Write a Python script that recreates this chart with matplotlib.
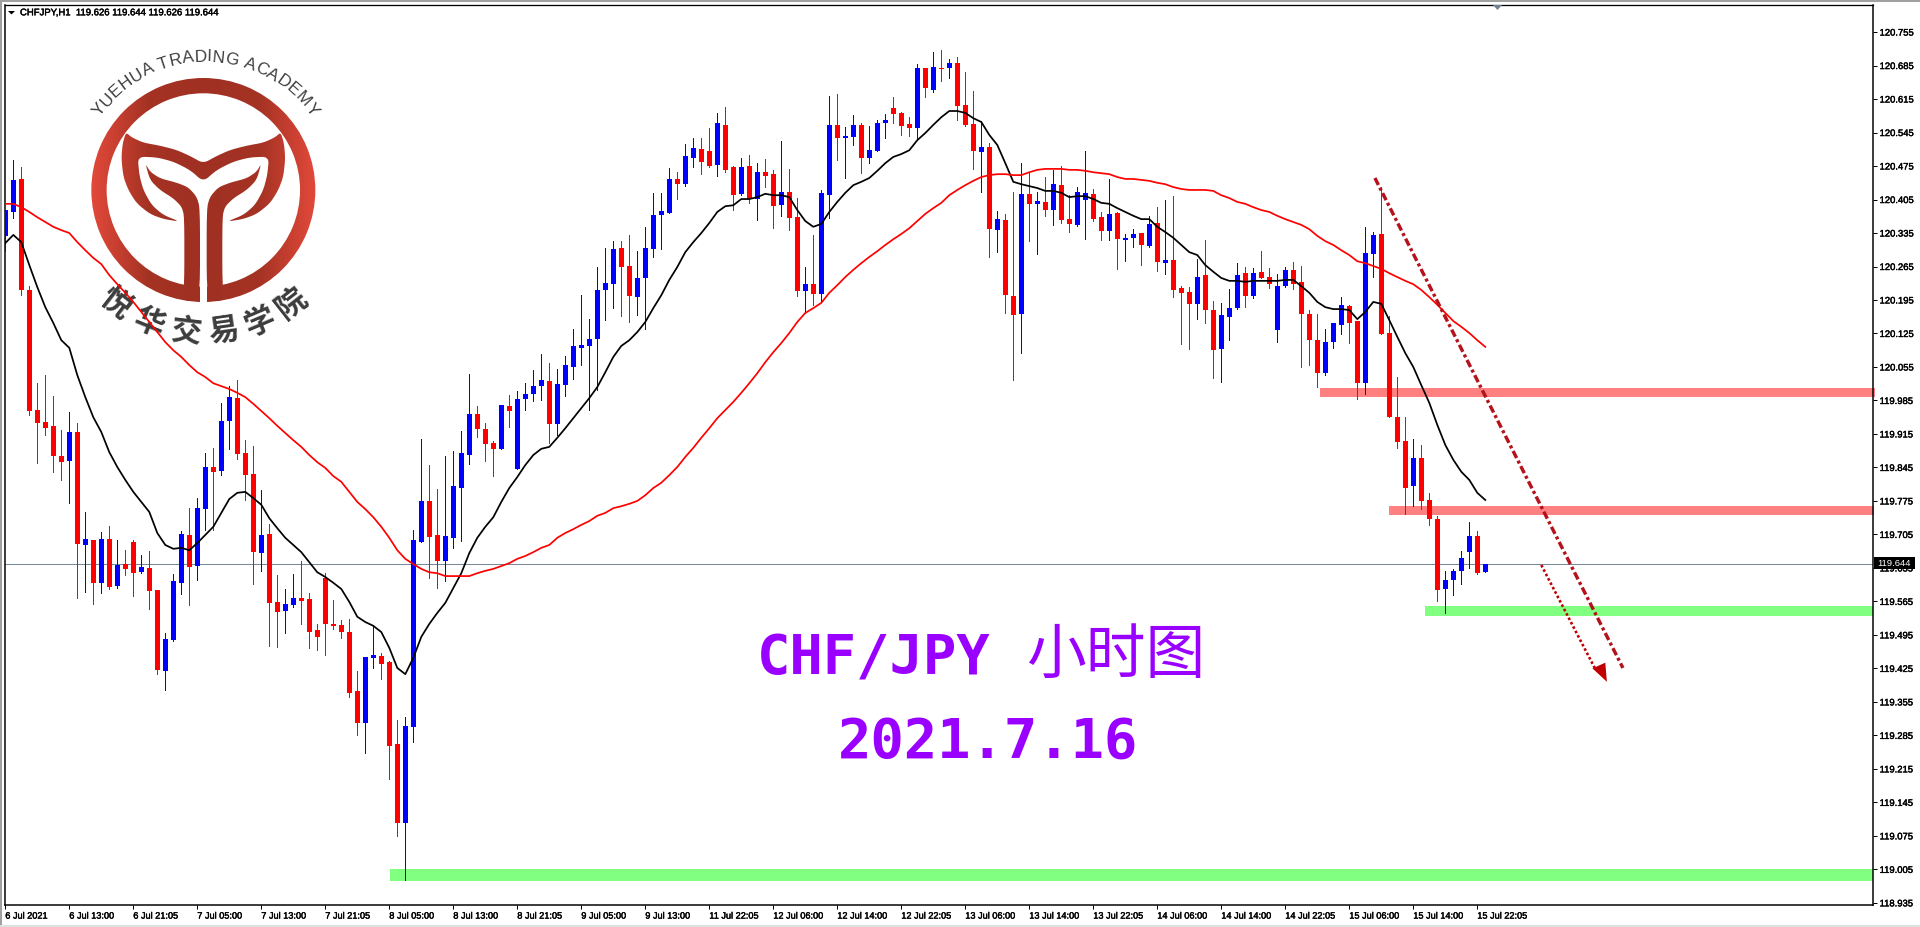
import numpy as np
import matplotlib
matplotlib.use("Agg")
import matplotlib.pyplot as plt
import matplotlib.patheffects as pe
from matplotlib.patches import Rectangle, Polygon, Wedge
from matplotlib.colors import LinearSegmentedColormap

# ---------- data (CHFJPY H1) ----------
opens = [
120.328,120.379,120.448,120.216,119.965,119.940,119.932,119.869,119.858,119.919,
119.683,119.693,119.604,119.695,119.597,119.643,119.689,119.626,119.635,119.589,
119.420,119.484,119.604,119.704,119.639,119.758,119.846,119.838,119.942,119.990,
119.875,119.831,119.666,119.706,119.564,119.545,119.558,119.572,119.570,119.505,
119.614,119.518,119.516,119.501,119.378,119.311,119.447,119.451,119.438,119.267,
119.102,119.303,119.689,119.775,119.704,119.650,119.698,119.802,119.871,119.957,
119.925,119.896,119.884,119.973,119.842,119.988,119.999,120.015,120.026,119.936,
120.017,120.055,120.095,120.099,120.113,120.216,120.228,120.304,120.266,120.201,
120.241,120.302,120.373,120.377,120.448,120.437,120.492,120.511,120.506,120.477,
120.561,120.473,120.417,120.475,120.406,120.462,120.458,120.393,120.421,120.368,
120.214,120.228,120.207,120.414,120.561,120.534,120.536,120.561,120.492,120.506,
120.565,120.596,120.586,120.563,120.554,120.680,120.634,120.680,120.680,120.690,
120.603,120.563,120.504,120.515,120.341,120.362,120.203,120.166,120.417,120.396,
120.400,120.383,120.435,120.364,120.352,120.404,120.417,120.368,120.339,120.377,
120.320,120.325,120.335,120.308,120.356,120.272,120.279,120.220,120.212,120.187,
120.247,120.174,120.093,120.159,120.178,120.251,120.203,120.254,120.243,120.132,
120.224,120.258,120.233,120.166,120.111,120.042,120.107,120.143,120.182,120.151,
120.021,120.291,120.333,120.126,119.950,119.900,119.806,119.865,119.777,119.737,
119.591,119.610,119.629,119.668,119.702,119.626]
highs = [
120.383,120.488,120.473,120.224,120.021,120.038,119.994,119.923,119.961,119.938,
119.752,119.693,119.710,119.723,119.693,119.672,119.693,119.662,119.670,119.589,
119.499,119.622,119.712,119.760,119.781,119.875,119.886,119.980,120.015,120.028,
119.902,119.890,119.798,119.727,119.620,119.591,119.622,119.650,119.583,119.518,
119.624,119.568,119.526,119.528,119.420,119.449,119.516,119.457,119.441,119.317,
119.323,119.714,119.904,119.850,119.800,119.869,119.879,119.921,120.040,119.973,
119.938,119.900,119.976,119.996,120.005,120.021,120.049,120.082,120.063,120.051,
120.078,120.134,120.205,120.155,120.264,120.304,120.318,120.318,120.331,120.297,
120.348,120.419,120.419,120.471,120.462,120.521,120.534,120.534,120.554,120.586,
120.598,120.475,120.492,120.498,120.481,120.490,120.467,120.527,120.469,120.408,
120.264,120.331,120.425,120.621,120.626,120.557,120.582,120.565,120.559,120.571,
120.584,120.619,120.588,120.577,120.688,120.680,120.713,120.717,120.699,120.703,
120.672,120.632,120.569,120.523,120.381,120.375,120.421,120.481,120.460,120.421,
120.452,120.467,120.475,120.414,120.431,120.506,120.427,120.379,120.448,120.379,
120.333,120.343,120.335,120.371,120.389,120.404,120.412,120.224,120.222,120.281,
120.320,120.193,120.189,120.218,120.272,120.264,120.262,120.297,120.262,120.249,
120.264,120.274,120.266,120.174,120.166,120.134,120.147,120.201,120.185,120.151,
120.348,120.337,120.431,120.162,120.034,119.950,119.904,119.892,119.792,119.744,
119.629,119.633,119.670,119.731,119.712,119.644]
lows = [
120.297,120.366,120.205,119.955,119.854,119.913,119.836,119.819,119.771,119.572,
119.585,119.560,119.583,119.591,119.593,119.620,119.576,119.624,119.549,119.413,
119.380,119.482,119.581,119.558,119.610,119.714,119.714,119.829,119.884,119.863,
119.777,119.601,119.629,119.472,119.470,119.499,119.553,119.518,119.468,119.464,
119.453,119.507,119.489,119.365,119.286,119.248,119.426,119.403,119.194,119.075,
118.983,119.271,119.689,119.614,119.593,119.608,119.677,119.691,119.852,119.909,
119.858,119.827,119.884,119.930,119.842,119.965,119.984,119.986,119.896,119.913,
119.994,120.030,120.059,119.965,120.007,120.153,120.178,120.162,120.149,120.164,
120.134,120.285,120.302,120.377,120.406,120.433,120.473,120.458,120.473,120.454,
120.462,120.383,120.414,120.398,120.362,120.431,120.345,120.371,120.341,120.203,
120.168,120.185,120.191,120.366,120.488,120.450,120.519,120.460,120.481,120.506,
120.534,120.565,120.540,120.538,120.529,120.619,120.630,120.653,120.659,120.571,
120.559,120.469,120.421,120.285,120.295,120.168,120.028,120.084,120.318,120.291,
120.371,120.352,120.356,120.337,120.350,120.322,120.360,120.320,120.320,120.260,
120.276,120.306,120.268,120.306,120.256,120.249,120.201,120.103,120.093,120.155,
120.147,120.032,120.024,120.111,120.176,120.180,120.199,120.241,120.220,120.107,
120.222,120.218,120.055,120.059,120.013,120.038,120.095,120.124,120.105,119.988,
119.999,120.243,120.124,119.950,119.886,119.748,119.764,119.758,119.725,119.566,
119.541,119.578,119.601,119.635,119.622,119.626]
closes = [
120.383,120.446,120.216,119.963,119.938,119.927,119.869,119.856,119.919,119.685,
119.695,119.604,119.695,119.595,119.641,119.633,119.624,119.637,119.587,119.422,
119.486,119.608,119.706,119.637,119.760,119.846,119.836,119.942,119.992,119.873,
119.829,119.668,119.704,119.562,119.543,119.560,119.572,119.566,119.501,119.491,
119.518,119.514,119.501,119.374,119.311,119.449,119.453,119.434,119.263,119.102,
119.305,119.693,119.775,119.700,119.650,119.702,119.806,119.875,119.957,119.925,
119.894,119.884,119.976,119.963,119.988,119.999,120.015,120.028,119.936,120.019,
120.059,120.099,120.101,120.113,120.216,120.231,120.302,120.264,120.203,120.241,
120.304,120.373,120.381,120.448,120.437,120.496,120.513,120.483,120.475,120.565,
120.467,120.414,120.473,120.406,120.462,120.454,120.391,120.421,120.366,120.214,
120.228,120.207,120.419,120.561,120.534,120.538,120.561,120.492,120.508,120.565,
120.571,120.584,120.559,120.554,120.680,120.638,120.682,120.678,120.690,120.600,
120.561,120.506,120.515,120.343,120.364,120.205,120.164,120.417,120.396,120.402,
120.383,120.437,120.362,120.354,120.421,120.419,120.364,120.339,120.375,120.322,
120.325,120.333,120.310,120.354,120.274,120.279,120.216,120.210,120.187,120.243,
120.174,120.090,120.164,120.178,120.247,120.203,120.251,120.241,120.228,120.224,
120.258,120.228,120.166,120.111,120.042,120.107,120.147,120.185,120.147,120.021,
120.293,120.331,120.124,119.950,119.898,119.802,119.865,119.775,119.737,119.589,
119.610,119.629,119.656,119.702,119.624,119.644]
ma_fast = [
120.314,120.331,120.316,120.268,120.222,120.180,120.147,120.111,120.095,120.038,
119.992,119.950,119.919,119.877,119.846,119.819,119.794,119.773,119.752,119.708,
119.683,119.675,119.677,119.672,119.687,119.704,119.721,119.750,119.779,119.792,
119.794,119.781,119.767,119.739,119.718,119.698,119.683,119.668,119.647,119.626,
119.616,119.604,119.591,119.564,119.533,119.522,119.514,119.501,119.468,119.426,
119.413,119.447,119.491,119.518,119.541,119.562,119.593,119.624,119.666,119.698,
119.721,119.741,119.773,119.802,119.825,119.850,119.871,119.884,119.888,119.907,
119.927,119.948,119.969,119.990,120.013,120.044,120.076,120.099,120.111,120.128,
120.149,120.178,120.205,120.237,120.264,120.295,120.316,120.335,120.356,120.379,
120.391,120.393,120.406,120.406,120.410,120.417,120.414,120.414,120.410,120.383,
120.360,120.348,120.354,120.379,120.400,120.419,120.435,120.442,120.450,120.465,
120.481,120.494,120.500,120.508,120.529,120.544,120.561,120.577,120.590,120.590,
120.586,120.575,120.567,120.540,120.519,120.481,120.442,120.437,120.433,120.429,
120.423,120.423,120.419,120.410,120.412,120.412,120.406,120.398,120.396,120.387,
120.379,120.371,120.364,120.364,120.348,120.337,120.325,120.310,120.295,120.289,
120.268,120.254,120.241,120.235,120.235,120.233,120.235,120.235,120.235,120.235,
120.237,120.237,120.224,120.210,120.191,120.180,120.176,120.176,120.174,120.155,
120.170,120.191,120.187,120.153,120.118,120.084,120.055,120.017,119.980,119.934,
119.892,119.861,119.836,119.819,119.792,119.777]
ma_slow = [
120.396,120.396,120.389,120.379,120.368,120.358,120.348,120.341,120.335,120.316,
120.299,120.283,120.270,120.247,120.228,120.210,120.191,120.170,120.149,120.128,
120.107,120.090,120.076,120.059,120.044,120.034,120.021,120.015,120.009,120.001,
119.992,119.978,119.963,119.948,119.932,119.917,119.902,119.888,119.871,119.856,
119.844,119.827,119.815,119.794,119.773,119.758,119.741,119.721,119.698,119.672,
119.654,119.643,119.633,119.626,119.624,119.618,119.618,119.618,119.618,119.624,
119.629,119.633,119.639,119.645,119.654,119.660,119.668,119.677,119.683,119.698,
119.708,119.716,119.725,119.733,119.744,119.750,119.760,119.764,119.769,119.775,
119.787,119.802,119.813,119.829,119.846,119.867,119.886,119.907,119.927,119.948,
119.965,119.982,120.001,120.021,120.042,120.065,120.086,120.105,120.126,120.149,
120.168,120.178,120.189,120.210,120.226,120.243,120.258,120.272,120.285,120.297,
120.310,120.322,120.333,120.345,120.360,120.375,120.387,120.398,120.414,120.425,
120.435,120.444,120.452,120.456,120.458,120.458,120.456,120.456,120.462,120.467,
120.469,120.469,120.469,120.467,120.467,120.465,120.462,120.460,120.458,120.452,
120.448,120.448,120.446,120.444,120.440,120.437,120.431,120.427,120.425,120.425,
120.425,120.423,120.414,120.408,120.400,120.396,120.389,120.383,120.379,120.371,
120.364,120.358,120.352,120.343,120.329,120.318,120.310,120.299,120.289,120.276,
120.272,120.266,120.260,120.251,120.243,120.235,120.228,120.216,120.201,120.185,
120.168,120.151,120.139,120.126,120.111,120.097]
time_labels = ["6 Jul 2021","6 Jul 13:00","6 Jul 21:05","7 Jul 05:00","7 Jul 13:00","7 Jul 21:05",
               "8 Jul 05:00","8 Jul 13:00","8 Jul 21:05","9 Jul 05:00","9 Jul 13:00","11 Jul 22:05",
               "12 Jul 06:00","12 Jul 14:00","12 Jul 22:05","13 Jul 06:00","13 Jul 14:00","13 Jul 22:05",
               "14 Jul 06:00","14 Jul 14:00","14 Jul 22:05","15 Jul 06:00","15 Jul 14:00","15 Jul 22:05"]
price_ticks = [120.755,120.685,120.615,120.545,120.475,120.405,120.335,120.265,120.195,120.125,
               120.055,119.985,119.915,119.845,119.775,119.705,119.635,119.565,119.495,119.425,
               119.355,119.285,119.215,119.145,119.075,119.005,118.935]
last_price = 119.644
# zones: (first bar, last bar, price low, price high, colour)
zones = [(164.3,233.7,119.992,120.011,"#FF8080"),(173.0,233.6,119.746,119.764,"#FF8080"),
         (177.5,233.4,119.535,119.555,"#80FF80"),(48.1,233.4,118.981,119.006,"#80FF80")]
trend_bars, trend_prices = [171.2,202.2], [120.450,119.426]
arrow_bars, arrow_prices = [192.0,198.8], [119.641,119.422]

W, H = 1920, 927
DPI = 100
LEFT, RIGHT, TOP, BOTTOM = 4.5, 1872.5, 4.5, 904.5
BLUE, RED = "#0000FF", "#FF0000"
plt.rcParams["font.family"] = ["Liberation Sans", "DejaVu Sans"]
fig = plt.figure(figsize=(W/DPI, H/DPI), dpi=DPI, facecolor="white")

# ---------- pixel overlay under the chart: logo and window edges ----------
bg = fig.add_axes([0,0,1,1], zorder=0)
cmap = LinearSegmentedColormap.from_list("logo", ["#9F3022","#A53324","#E2493A"])
LX, LY = 610/3, 570/3
R_OUT, R_IN = 112.0, 96.7
def gradient_fill(patch, z=2):
    bg.add_patch(patch)
    g = np.abs(np.linspace(-1,1,300))[None,:]
    im = bg.imshow(g, extent=(LX-R_OUT,LX+R_OUT,LY+R_OUT,LY-R_OUT), cmap=cmap, vmin=0, vmax=1,
                   aspect="auto", interpolation="bilinear", zorder=z)
    im.set_clip_path(patch)
def soften(pts, rounds=2):
    p = np.array(pts, float)
    for _ in range(rounds):
        q = np.roll(p, -1, axis=0)
        p = np.column_stack([0.8*p + 0.2*q, 0.2*p + 0.8*q]).reshape(-1, 2)
    return p
gradient_fill(Wedge((LX,LY),R_OUT,0,360,width=R_OUT-R_IN,fc="none",ec="none"))
bg.add_patch(Rectangle((600/3,770/3),20/3,150/3,fc="white",ec="none",zorder=3))
crown_half = [(610,490),(570,468),(530,450),(480,437),(430,428),(395,412),(378,397),(368,430),(364,475),
              (370,530),(385,570),(410,610),(450,642),(490,657),(540,665),(490,645),(455,615),(430,570),
              (418,525),(413,470),(470,472),(520,485),(570,510),(610,545)]
crown = crown_half + [(1220-x,y) for x,y in crown_half[-2:0:-1]]
stem = [(436,490),(450,515),(480,535),(530,548),(565,562),(590,590),(600,625),(600,875),(585,893),(568,903),
        (545,897),(553,855),(553,650),(545,620),(520,595),(480,570),(450,540)]
for pts in (crown, stem, [(1220-x,y) for x,y in stem]):
    gradient_fill(Polygon(soften(pts)/3.0, closed=True, fc="none", ec="none", zorder=4), z=4)
# arc captions
title = "YUEHUA TRADING ACADEMY"
adv = {"Y":.667,"U":.722,"E":.667,"H":.722,"A":.667," ":.278,"T":.611,"R":.722,"D":.722,"I":.278,"N":.722,
       "G":.778,"C":.722,"M":.833}
w = np.array([adv[c] for c in title])
mid = np.cumsum(w) - w/2
ang = -55.5 + 111*mid/w.sum()
for c,a in zip(title,ang):
    rad = np.deg2rad(a)
    bg.text(LX+2+133*np.sin(rad), LY-133*np.cos(rad), c, rotation=-a, rotation_mode="anchor", ha="center",
            va="center", fontsize=12.4, color="#404040", zorder=5)
for c,a in zip("悦华交易学院",[-37.8,-22.3,-6.8,8.1,23,38]):
    rad = np.deg2rad(a)
    bg.text(LX+143*np.sin(rad), LY+143*np.cos(rad), c, rotation=a, rotation_mode="anchor", ha="center",
            va="center", fontsize=22, fontweight="bold", family=["Noto Sans CJK SC","DejaVu Sans"],
            color="#3C3C3C", zorder=5)
bg.add_patch(Rectangle((0,0),W,2,fc="#A0A0A0",ec="none"))
bg.add_patch(Rectangle((0,0),2,H,fc="#A0A0A0",ec="none"))
bg.add_patch(Rectangle((0,925),W,2,fc="#E0E0E0",ec="none"))
bg.set_xlim(0,W); bg.set_ylim(H,0); bg.axis("off")

# ---------- chart ----------
ax = fig.add_axes([LEFT/W, 1-BOTTOM/H, (RIGHT-LEFT)/W, (BOTTOM-TOP)/H], zorder=1)
ax.set_facecolor("none")
px = 72.0/DPI
n = len(opens)
x = np.arange(n)
o, hi, lo, c = map(np.array, (opens, highs, lows, closes))
bull = c >= o
colors = np.where(bull, BLUE, RED)
for z in zones:
    ax.add_patch(Rectangle((z[0],z[2]),z[1]-z[0],z[3]-z[2],fc=z[4],ec="none",zorder=1,clip_on=False))
ax.vlines(x, lo, hi, colors=colors, lw=1.0*px, zorder=3, antialiased=False)
ax.bar(x, np.abs(c-o), bottom=np.minimum(o,c), width=5.4/8, color=colors, lw=0, zorder=3, antialiased=False)
ax.plot(x, ma_fast, color="black", lw=1.25, zorder=4)
ax.plot(x, ma_slow, color="#FF0000", lw=1.25, zorder=4)
ax.axhline(last_price, color="#778899", lw=1.0*px, zorder=2)
ax.plot(trend_bars, trend_prices, color="#B5121B", lw=3.4*px, zorder=5, linestyle=(0,(2.3,0.9,0.9,0.9)))
ax.plot(arrow_bars, arrow_prices, color="#C00000", lw=2.6*px, zorder=5, linestyle=(0,(1,0.9)))
ax.add_patch(Polygon([(198.4,119.425),(200.0,119.437),(200.2,119.397)], closed=True, fc="#C00000", ec="none", zorder=5))

ax.set_xlim((LEFT-5.3)/8, (RIGHT-5.3)/8)
ax.set_ylim(120.822-0.00209*BOTTOM, 120.822-0.00209*TOP)
ax.spines["top"].set_linewidth(1.3*px)
for s in ("left","right","bottom"):
    ax.spines[s].set_linewidth(1.5*px)
ax.yaxis.tick_right()
ax.set_yticks(price_ticks)
ax.set_yticklabels([f"{p:.3f}" for p in price_ticks], fontsize=6.8, color="black")
tick_pos = np.arange(len(time_labels))*8
ax.set_xticks(tick_pos)
ax.set_xticklabels(time_labels, fontsize=6.6, ha="left", color="black")
ax.tick_params(axis="y", length=2.6, width=1*px, pad=2.5)
ax.tick_params(axis="x", length=2.6, width=1*px, pad=2.5)
heavy = [pe.withStroke(linewidth=0.3, foreground="black")]
for t in ax.get_xticklabels() + ax.get_yticklabels():
    t.set_path_effects(heavy)

# ---------- texts and markers above everything ----------
def fx(v): return v/W
def fy(v): return 1-v/H
fig.add_artist(Rectangle((fx(1874),fy(568.5)),41/W,11.5/H,transform=fig.transFigure,fc="black",ec="none",zorder=5))
fig.text(fx(1894.5),fy(563),f"{last_price:.3f}",color="white",fontsize=6.8,ha="center",va="center",zorder=6)
fig.add_artist(Polygon([(fx(8),fy(11)),(fx(15),fy(11)),(fx(11.5),fy(14.5))],closed=True,transform=fig.transFigure,
                       fc="black",ec="none",zorder=5))
fig.text(fx(20),fy(12.3),"CHFJPY,H1  119.626 119.644 119.626 119.644",fontsize=6.85,color="black",ha="left",va="center",
         zorder=6,path_effects=heavy)
fig.add_artist(Polygon([(fx(1493),fy(5)),(fx(1502),fy(5)),(fx(1497.5),fy(10))],closed=True,transform=fig.transFigure,
                       fc="#708090",ec="none",zorder=5))
PURPLE = "#9900FF"
fig.text(fx(874),fy(675),"CHF/JPY",fontsize=40,fontweight="bold",family=["DejaVu Sans Mono"],color=PURPLE,ha="center",va="baseline",zorder=6)
fig.text(fx(1116),fy(656),"小时图",fontsize=43,family=["Noto Sans CJK SC","DejaVu Sans"],color=PURPLE,ha="center",va="center",zorder=6)
fig.text(fx(988.5),fy(758),"2021.7.16",fontsize=40,fontweight="bold",family=["DejaVu Sans Mono"],color=PURPLE,ha="center",va="baseline",zorder=6)

fig.savefig("out.png", dpi=DPI, facecolor="white")
